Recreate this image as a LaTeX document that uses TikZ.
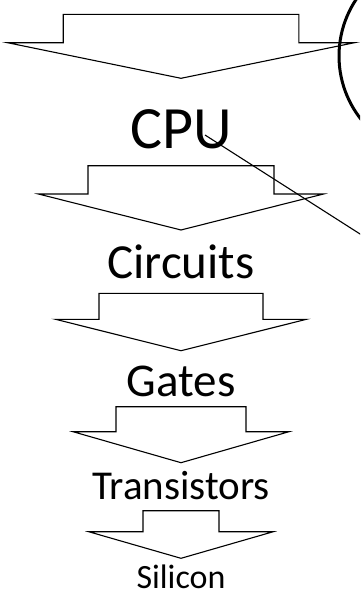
\documentclass[tikz,border=0pt]{standalone}
\usepackage{fontspec}
\setmainfont{Carlito}
\usetikzlibrary{calc}
\tikzstyle{level} = [anchor=base, inner sep=0pt]
\tikzstyle{blockarrow} = [draw, line width=1.1pt, line join=miter]
\newcommand{\blockdown}[5]{% top, stem half width, shoulder, wing half width, tip
  \draw[blockarrow] (181-#2,#1) -- (181+#2,#1) -- (181+#2,#3) -- (181+#4,#3)
    -- (181,#5) -- (181-#4,#3) -- (181-#2,#3) -- cycle;}

\begin{document}
\begin{tikzpicture}[x=1pt,y=-1pt]
    \useasboundingbox (0,0) rectangle (360,597);
    \clip (0,0) rectangle (360,597);
    \blockdown{14.3}{117.8}{42.7}{173.5}{78.3}
    \blockdown{165.7}{93}{194}{142.5}{230}
    \blockdown{293.3}{82}{319.3}{125.5}{350.7}
    \blockdown{406.7}{65}{431.7}{108}{462.7}
    \blockdown{510.7}{38}{531.7}{92.3}{558.3}
    \draw (181,148.3) node[level,font=\fontsize{60}{60}\selectfont] (cpu) {CPU};
    \draw (181,278.3) node[level,font=\fontsize{49}{49}\selectfont] (circ) {Circuits};
    \draw (181,396.7) node[level,font=\fontsize{47}{47}\selectfont] (gates) {Gates};
    \draw (181,499.3) node[level,font=\fontsize{41}{41}\selectfont] (trans) {Transistors};
    \draw (181,588.3) node[level,font=\fontsize{34}{34}\selectfont] (si) {Silicon};
    \draw[line width=3pt] (441,56) circle (102);
    \coordinate (cpuend) at (205,135);
    \coordinate (zoomin) at (400,259.5);
    \draw[line width=1.1pt] (cpuend) -- (zoomin);
\end{tikzpicture}
\end{document}
